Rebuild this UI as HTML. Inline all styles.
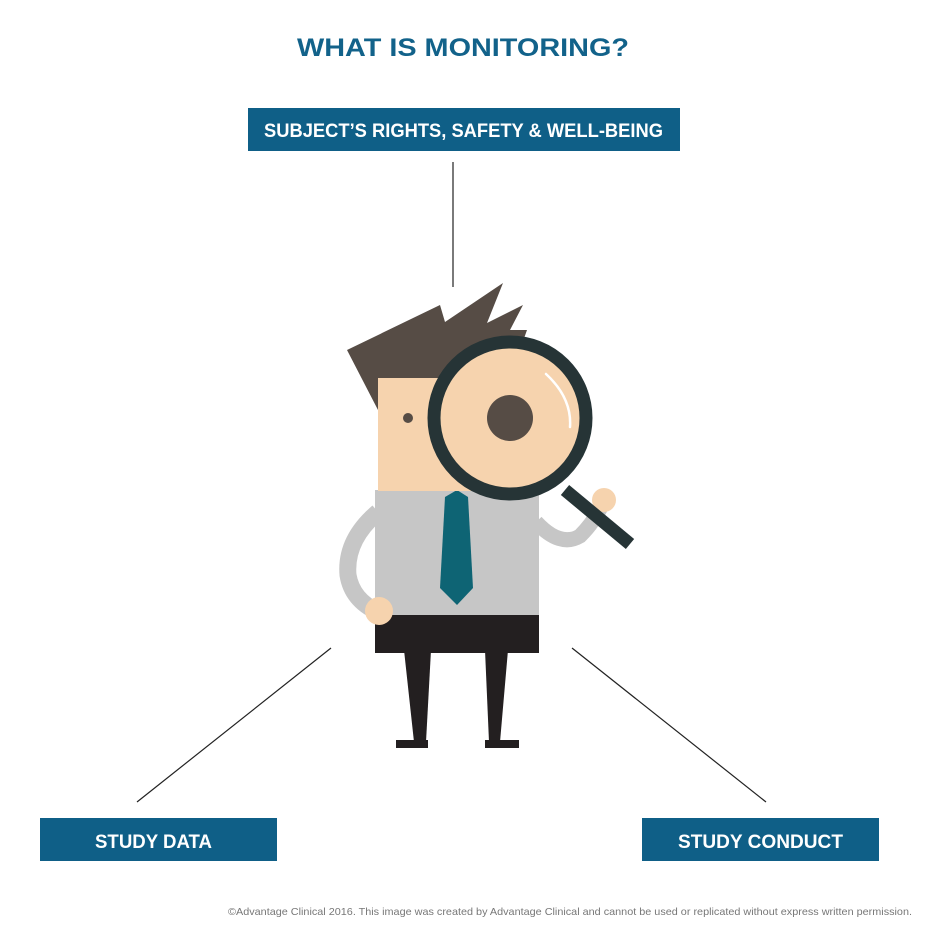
<!DOCTYPE html>
<html><head><meta charset="utf-8"><style>
html,body{margin:0;padding:0;background:#fff;}
svg{display:block;}
text{font-family:"Liberation Sans",sans-serif;font-weight:bold;}
</style></head><body>
<svg width="928" height="928" viewBox="0 0 928 928">
<text x="297" y="56" font-size="25" fill="#12628a" textLength="332" lengthAdjust="spacingAndGlyphs">WHAT IS MONITORING?</text>

<rect x="248" y="108" width="432" height="43" fill="#0f5f87"/>
<text x="264" y="137" font-size="19" fill="#fff" textLength="399" lengthAdjust="spacingAndGlyphs">SUBJECT’S RIGHTS, SAFETY &amp; WELL-BEING</text>

<rect x="40" y="818" width="237" height="43" fill="#0f5f87"/>
<text x="95" y="848" font-size="19" fill="#fff" textLength="117" lengthAdjust="spacingAndGlyphs">STUDY DATA</text>

<rect x="642" y="818" width="237" height="43" fill="#0f5f87"/>
<text x="678" y="848" font-size="19" fill="#fff" textLength="165" lengthAdjust="spacingAndGlyphs">STUDY CONDUCT</text>

<line x1="453" y1="162" x2="453" y2="287" stroke="#222" stroke-width="1.2"/>
<line x1="331" y1="648" x2="137" y2="802" stroke="#222" stroke-width="1.2"/>
<line x1="572" y1="648" x2="766" y2="802" stroke="#222" stroke-width="1.2"/>

<g>
  <!-- arms -->
  <path d="M378 512 Q345 540 348 575 Q352 600 378 612" fill="none" stroke="#c6c6c6" stroke-width="17"/>
  <path d="M536 522 Q560 548 580 536 Q596 520 603 502" fill="none" stroke="#c6c6c6" stroke-width="15"/>
  <circle cx="604" cy="500" r="12" fill="#f6d3ae"/>
  <!-- legs -->
  <polygon points="404,650 431,650 426,742 414,742" fill="#231f20"/>
  <rect x="396" y="740" width="32" height="8" fill="#231f20"/>
  <polygon points="485,650 508,650 500,742 489,742" fill="#231f20"/>
  <rect x="485" y="740" width="34" height="8" fill="#231f20"/>
  <rect x="375" y="614" width="164" height="39" fill="#231f20"/>
  <!-- shirt -->
  <rect x="375" y="490" width="164" height="125" fill="#c6c6c6"/>
  <polygon points="445,497 457,490 468,497 473,588 457,605 440,588" fill="#0e6474"/>
  <circle cx="379" cy="611" r="14" fill="#f6d3ae"/>
  <!-- head -->
  <rect x="378" y="378" width="100" height="113" fill="#f6d3ae"/>
  <polygon points="347,350 440,305 445,322 503,283 487,323 523,305 510,330 527,330 510,378 378,378 378,410" fill="#564c45"/>
  <circle cx="408" cy="418" r="5" fill="#564c45"/>
  <!-- magnifier -->
  <line x1="565" y1="490" x2="630" y2="544" stroke="#263436" stroke-width="13"/>
  <circle cx="510" cy="418" r="76" fill="#f6d3ae" stroke="#263436" stroke-width="13"/>
  <circle cx="510" cy="418" r="23" fill="#564c45"/>
  <path d="M546 374 Q572 398 570 427" fill="none" stroke="#fff" stroke-width="2.5" stroke-linecap="round"/>
</g>

<text x="912" y="915" text-anchor="end" font-size="10.5" font-weight="normal" style="font-weight:normal" fill="#777" textLength="684" lengthAdjust="spacingAndGlyphs">©Advantage Clinical 2016. This image was created by Advantage Clinical and cannot be used or replicated without express written permission.</text>
</svg>
</body></html>
